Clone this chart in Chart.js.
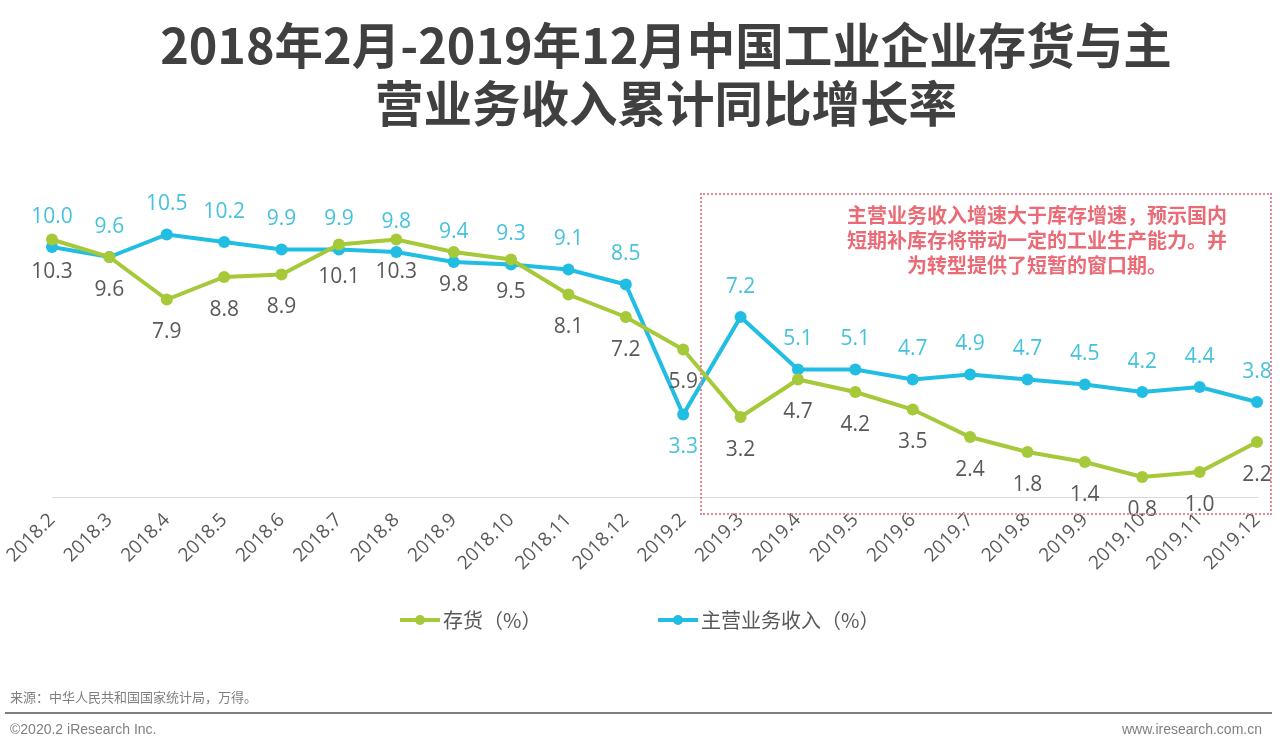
<!DOCTYPE html>
<html>
<head>
<meta charset="utf-8">
<script src="https://cdn.jsdelivr.net/npm/chart.js@4.4.1/dist/chart.umd.min.js"></script>
<style>
  html, body { margin: 0; padding: 0; background: #fff; }
  #page { position: relative; width: 1280px; height: 749px; overflow: hidden; font-family: "Noto Sans CJK SC", "Noto Sans", sans-serif; }
  #chartBox { position: absolute; left: 0; top: 0; width: 1280px; height: 749px; }
  #title { position: absolute; left: 52px; top: 14px; width: 1228px; text-align: center; font-size: 48.5px; font-weight: bold; line-height: 58px; color: #404040; white-space: nowrap; }
  #note { position: absolute; left: 700px; top: 193px; width: 568px; height: 318px; border: 2px dotted #e58a93; pointer-events: none; }
  #noteText { position: absolute; left: 110px; top: 7px; width: 450px; text-align: center; font-size: 20px; font-weight: bold; line-height: 25px; color: #ea6a76; white-space: nowrap; }
  #source { position: absolute; left: 10px; top: 687px; font-size: 13px; color: #7f7f7f; }
  #rule { position: absolute; left: 5px; top: 712px; width: 1267px; height: 2px; background: #7f7f7f; }
  .foot { position: absolute; top: 721px; font-family: "Liberation Sans Narrow", "Liberation Sans", sans-serif; font-size: 14px; color: #7f7f7f; }
</style>
</head>
<body>
<div id="page">
  <div id="chartBox"><canvas id="industryChart"></canvas></div>
  <div id="title">2018年2月-2019年12月中国工业企业存货与主<br>营业务收入累计同比增长率</div>
  <div id="note"><div id="noteText">主营业务收入增速大于库存增速，预示国内<br>短期补库存将带动一定的工业生产能力。并<br>为转型提供了短暂的窗口期。</div></div>
  <div id="source">来源：中华人民共和国国家统计局，万得。</div>
  <div id="rule"></div>
  <div class="foot" style="left:10px">©2020.2 iResearch Inc.</div>
  <div class="foot" style="right:18px">www.iresearch.com.cn</div>
</div>
<script>
const months = ['2018.2', '2018.3', '2018.4', '2018.5', '2018.6', '2018.7', '2018.8', '2018.9', '2018.10', '2018.11', '2018.12',
  '2019.2', '2019.3', '2019.4', '2019.5', '2019.6', '2019.7', '2019.8', '2019.9', '2019.10', '2019.11', '2019.12'];
const inventory = [10.3, 9.6, 7.9, 8.8, 8.9, 10.1, 10.3, 9.8, 9.5, 8.1, 7.2, 5.9, 3.2, 4.7, 4.2, 3.5, 2.4, 1.8, 1.4, 0.8, 1.0, 2.2];
const revenue = [10.0, 9.6, 10.5, 10.2, 9.9, 9.9, 9.8, 9.4, 9.3, 9.1, 8.5, 3.3, 7.2, 5.1, 5.1, 4.7, 4.9, 4.7, 4.5, 4.2, 4.4, 3.8];
const seriesNames = ['存货（%）', '主营业务收入（%）'];

const green = '#a6c93a';
const cyan = '#22bde3';

// value labels above / below each point
const valueLabels = {
  id: 'valueLabels',
  afterDatasetsDraw(chart) {
    const ctx = chart.ctx;
    ctx.save();
    ctx.font = '21px "Open Sans", "Noto Sans", sans-serif';
    ctx.textAlign = 'center';
    ctx.textBaseline = 'middle';
    chart.data.datasets.forEach((ds, di) => {
      const meta = chart.getDatasetMeta(di);
      meta.data.forEach((pt, i) => {
        let below = ds.labelSide === 'below';
        if (ds.flipLabel && ds.flipLabel.includes(i)) below = !below;
        ctx.fillStyle = ds.labelColor;
        ctx.fillText(ds.data[i].toFixed(1), pt.x, pt.y + (below ? 33 : -30));
      });
    });
    ctx.restore();
  }
};

// legend drawn under the axis
const bottomLegend = {
  id: 'bottomLegend',
  afterDraw(chart) {
    const ctx = chart.ctx;
    const items = [{ x: 400, color: green }, { x: 658, color: cyan }];
    ctx.save();
    ctx.font = '20px "Noto Sans CJK SC", sans-serif';
    ctx.textBaseline = 'middle';
    items.forEach((it, i) => {
      const y = 620;
      ctx.strokeStyle = it.color;
      ctx.lineWidth = 4;
      ctx.beginPath();
      ctx.moveTo(it.x, y);
      ctx.lineTo(it.x + 40, y);
      ctx.stroke();
      ctx.fillStyle = it.color;
      ctx.beginPath();
      ctx.arc(it.x + 20, y, 5, 0, Math.PI * 2);
      ctx.fill();
      ctx.fillStyle = '#595959';
      ctx.fillText(seriesNames[i], it.x + 43, y);
    });
    ctx.restore();
  }
};

new Chart(document.getElementById('industryChart'), {
  type: 'line',
  data: {
    labels: months,
    datasets: [{
      label: seriesNames[0],
      data: inventory,
      borderColor: green,
      backgroundColor: green,
      borderWidth: 4,
      pointRadius: 6,
      pointBorderWidth: 0,
      tension: 0,
      labelSide: 'below',
      labelColor: '#595959'
    }, {
      label: seriesNames[1],
      data: revenue,
      borderColor: cyan,
      backgroundColor: cyan,
      borderWidth: 4,
      pointRadius: 6,
      pointBorderWidth: 0,
      tension: 0,
      labelSide: 'above',
      labelColor: '#45c2dd',
      flipLabel: [11]
    }]
  },
  options: {
    responsive: true,
    maintainAspectRatio: false,
    animation: false,
    layout: { padding: { top: 197, bottom: 160, left: 52, right: 23 } },
    plugins: {
      legend: { display: false },
      title: { display: false },
      tooltip: { enabled: false }
    },
    scales: {
      x: {
        offset: false,
        grid: { display: false },
        border: { color: '#d9d9d9', width: 1 },
        afterFit: s => { s.height = 92; },
        ticks: {
          autoSkip: false,
          minRotation: 45,
          maxRotation: 45,
          padding: 4,
          color: '#595959',
          font: { size: 19, family: '"Open Sans", "Noto Sans", sans-serif' }
        }
      },
      y: {
        display: false,
        min: 0,
        max: 12
      }
    }
  },
  plugins: [valueLabels, bottomLegend]
});
</script>
</body>
</html>
